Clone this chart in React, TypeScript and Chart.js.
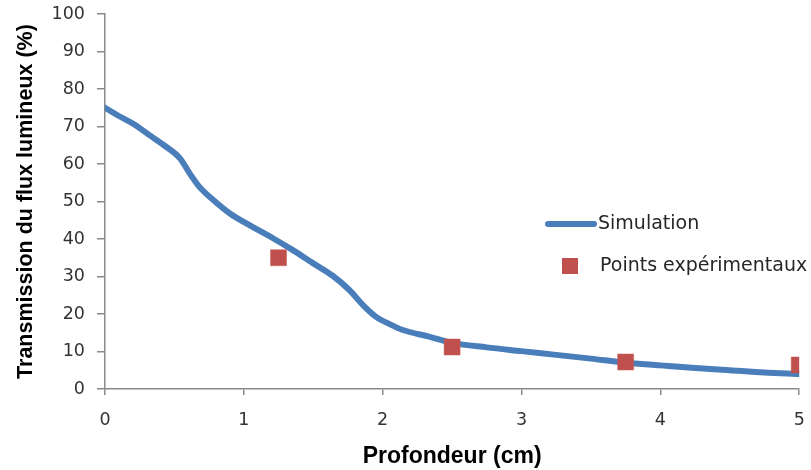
import React, { useEffect, useRef } from "react";
import { Chart, registerables } from "chart.js";

Chart.register(...registerables);

// Simulation curve: depth (cm) and transmission (%)
const simDepth = [0, 0.1, 0.2, 0.32, 0.44, 0.54, 0.61, 0.68, 0.78, 0.9, 1.04, 1.21, 1.35, 1.5, 1.64, 1.76, 1.86, 1.95, 2.05, 2.14, 2.34, 2.5, 2.75, 3.0, 3.25, 3.5, 3.75, 4.0, 4.25, 4.5, 4.75, 5.0];
const simTransmission = [75, 72.8, 70.8, 67.7, 64.6, 61.5, 57.5, 53.9, 50.4, 46.8, 43.7, 40.2, 37.1, 33.5, 30.2, 26.4, 22.3, 19.3, 17.3, 15.8, 13.9, 12.3, 11.1, 10.1, 9.1, 8.1, 7.0, 6.3, 5.6, 5.0, 4.4, 4.0];

// Experimental points
const expDepth = [1.25, 2.5, 3.75, 5];
const expTransmission = [35, 11.2, 7.2, 6.4];

const seriesLabels = ["Simulation", "Points expérimentaux"];
const xTitle = "Profondeur (cm)";
const yTitle = "Transmission du flux lumineux (%)";

const BLUE = "#4A7EBB";
const RED = "#C0504D";
const AXIS = "#8a8a8a";

const legendPlugin = {
  id: "insideLegend",
  afterDraw(chart: any) {
    const ctx = chart.ctx as CanvasRenderingContext2D;
    const ds = chart.data.datasets;
    ctx.save();
    ctx.font = '19px "DejaVu Sans"';
    ctx.textBaseline = "middle";
    ctx.textAlign = "left";
    // line item
    ctx.strokeStyle = ds[0].borderColor;
    ctx.lineWidth = 6;
    ctx.lineCap = "round";
    ctx.beginPath();
    ctx.moveTo(548, 224);
    ctx.lineTo(594, 224);
    ctx.stroke();
    ctx.fillStyle = "#262626";
    ctx.fillText(ds[0].label, 598, 224);
    // marker item
    ctx.fillStyle = ds[1].backgroundColor;
    ctx.fillRect(562, 258, 16, 16);
    ctx.fillStyle = "#262626";
    ctx.fillText(ds[1].label, 600, 266);
    ctx.restore();
  },
};

export default function App() {
  const ref = useRef<HTMLCanvasElement | null>(null);

  useEffect(() => {
    if (!ref.current) return;
    const chart = new Chart(ref.current, {
      type: "scatter",
      data: {
        datasets: [
          {
            label: seriesLabels[0],
            data: simDepth.map((x, i) => ({ x, y: simTransmission[i] })),
            showLine: true,
            borderColor: BLUE,
            backgroundColor: BLUE,
            borderWidth: 6,
            borderCapStyle: "round",
            borderJoinStyle: "round",
            cubicInterpolationMode: "monotone",
            pointRadius: 0,
            order: 2,
          } as any,
          {
            label: seriesLabels[1],
            data: expDepth.map((x, i) => ({ x, y: expTransmission[i] })),
            showLine: false,
            pointStyle: "rect",
            pointRadius: 11.3,
            backgroundColor: RED,
            borderColor: "#C65B59",
            borderWidth: 0.5,
            order: 1,
          } as any,
        ],
      },
      options: {
        animation: false,
        responsive: false,
        maintainAspectRatio: false,
        layout: { padding: { left: 0, right: 11, top: 14, bottom: 0 } },
        plugins: {
          legend: { display: false },
          tooltip: { enabled: false },
        },
        scales: {
          x: {
            type: "linear",
            min: 0,
            max: 5,
            afterFit: (s: any) => {
              s.height = 81;
              s.paddingLeft = 0;
              s.paddingRight = 0;
            },
            ticks: {
              stepSize: 1,
              color: "#333333",
              padding: 15,
              font: { family: '"DejaVu Sans"', size: 17.5 },
            },
            grid: {
              display: true,
              drawOnChartArea: false,
              drawTicks: true,
              tickLength: 6,
              color: AXIS,
              lineWidth: 1.5,
            },
            border: { display: true, color: AXIS, width: 1.5 },
            title: {
              display: true,
              text: xTitle,
              color: "#000000",
              font: { family: '"Liberation Sans"', size: 23, weight: "bold" },
              padding: { top: 0, bottom: 0 },
            },
          },
          y: {
            type: "linear",
            min: 0,
            max: 100,
            afterFit: (s: any) => {
              s.width = 105;
              s.paddingTop = 0;
              s.paddingBottom = 0;
            },
            ticks: {
              stepSize: 10,
              color: "#333333",
              padding: 12,
              font: { family: '"DejaVu Sans"', size: 17.5 },
            },
            grid: {
              display: true,
              drawOnChartArea: false,
              drawTicks: true,
              tickLength: 8,
              color: AXIS,
              lineWidth: 1.5,
            },
            border: { display: true, color: AXIS, width: 1.5 },
            title: {
              display: true,
              text: yTitle,
              color: "#000000",
              font: { family: '"Liberation Sans"', size: 21.5, weight: "bold" },
              padding: { top: 13, bottom: 0 },
            },
          },
        },
      },
      plugins: [legendPlugin],
    });
    return () => chart.destroy();
  }, []);

  return (
    <div style={{ position: "absolute", left: 0, top: 0, width: 811, height: 470, background: "#ffffff" }}>
      <canvas ref={ref} width={811} height={470} style={{ display: "block" }} />
    </div>
  );
}
